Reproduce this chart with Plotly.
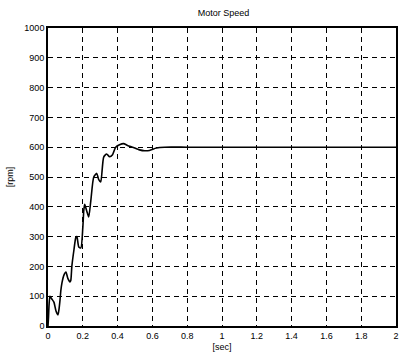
import plotly.graph_objects as go

# Motor speed step response (time in seconds, speed in rpm)
time_s = [0.0, 0.003, 0.006, 0.011, 0.017, 0.023, 0.034, 0.046, 0.057, 0.063,
          0.069, 0.074, 0.08, 0.091, 0.103, 0.114, 0.126, 0.131, 0.137, 0.149,
          0.16, 0.166, 0.177, 0.189, 0.2, 0.206, 0.211, 0.223, 0.234, 0.246,
          0.263, 0.28, 0.291, 0.303, 0.32, 0.337, 0.354, 0.371, 0.389, 0.411,
          0.434, 0.457, 0.486, 0.526, 0.555, 0.583, 0.623, 0.669, 0.8, 1.0,
          1.5, 2.0]
speed_rpm = [0, 30, 70, 100, 95, 90, 80, 50, 37, 55,
             87, 120, 144, 170, 181, 160, 148, 153, 200, 255,
             297, 300, 265, 262, 330, 390, 408, 385, 366, 420,
             500, 512, 492, 483, 567, 577, 568, 575, 600, 608,
             612, 606, 600, 591, 588, 589, 597, 600, 600, 600,
             600, 600]

x_ticks = [0, 0.2, 0.4, 0.6, 0.8, 1, 1.2, 1.4, 1.6, 1.8, 2]
y_ticks = [0, 100, 200, 300, 400, 500, 600, 700, 800, 900, 1000]

label_font = dict(family="Liberation Sans", size=9, color="black")

fig = go.Figure()
fig.add_trace(go.Scatter(
    x=time_s, y=speed_rpm, mode="lines",
    line=dict(color="black", width=1.6, shape="spline", smoothing=0.6),
    showlegend=False,
))

axis_common = dict(
    showline=True, linecolor="black", linewidth=1.6, mirror=True,
    showgrid=True, gridcolor="black", gridwidth=1.4, griddash="5px,4px",
    zeroline=False, ticks="",
    tickfont=label_font,
)

fig.update_xaxes(range=[0, 2], tickvals=x_ticks, **axis_common,
                 title=dict(text="[sec]", standoff=4, font=label_font))
fig.update_yaxes(range=[0, 1000], tickvals=y_ticks, **axis_common,
                 title=dict(text="[rpm]", standoff=9, font=label_font))

fig.update_layout(
    width=399, height=359,
    margin=dict(l=48, r=1, t=28, b=33),
    paper_bgcolor="white", plot_bgcolor="white",
    title=dict(text="Motor Speed", x=0.56, xanchor="center", y=0.965, yanchor="middle",
               font=label_font),
)

fig.write_html("out.html")
